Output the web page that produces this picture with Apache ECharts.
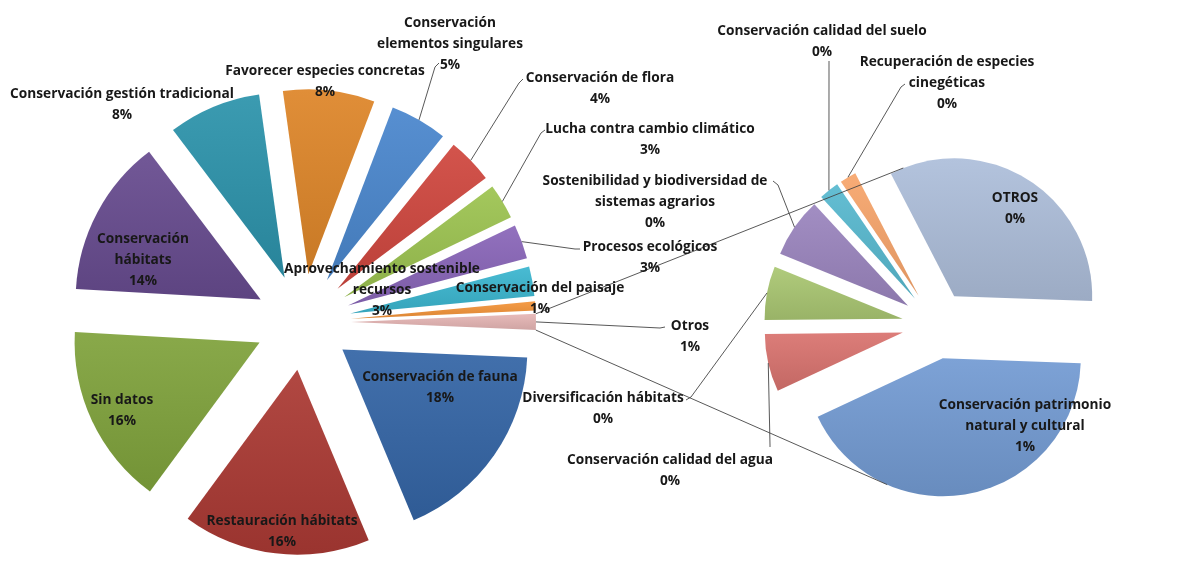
<!DOCTYPE html>
<html><head><meta charset="utf-8">
<script src="https://cdn.jsdelivr.net/npm/echarts@6/dist/echarts.min.js"></script>
<style>html,body{margin:0;padding:0;background:#fff}#c{width:1201px;height:563px}</style>
</head><body><div id="c"></div>
<script>
// ---------- DATA ----------
const mainNames = ['Conservación de fauna','Restauración hábitats','Sin datos','Conservación\nhábitats','Conservación gestión tradicional','Favorecer especies concretas','Conservación\nelementos singulares','Conservación de flora','Lucha contra cambio climático','Procesos ecológicos','Aprovechamiento sostenible\nrecursos','Conservación del paisaje','Otros'];
const mainValues = [18.0,16.4,15.8,13.8,8.1,8.0,5.0,4.0,3.1,3.0,2.6,0.8,1.4];
const subNames = ['Conservación patrimonio\nnatural y cultural','Conservación calidad del agua','Diversificación hábitats','Sostenibilidad y biodiversidad de\nsistemas agrarios','Conservación calidad del suelo','Recuperación de especies\ncinegéticas','OTROS'];
const subValues = [0.595,0.095,0.088,0.098,0.033,0.027,0.464];

// ---------- STYLE / LAYOUT ----------
const mainColors = ['#3465A6','#AB3A34','#80A33C','#674B8F','#2C93AB','#DE8629','#4A87CE','#D0473F','#9DC451','#8A66B9','#3BB6D0','#F4953A','#E6B6B5'];
const subColors = ['#739BD3','#D9736F','#AAC772','#9B85BF','#58B9D0','#F8A66C','#ADBEDA'];
const P1 = {cx:303, cy:322, r:185, off:48, start:2.5};
const P2 = {cx:936, cy:325, r:138, off:34, start:2.0};
const LDY = 2;
const mainSpecs = [
  {x:440,y:386},{x:282,y:530},{x:122,y:409},{x:143,y:258},{x:122,y:103},{x:325,y:80},
  {x:450,y:42,line:[[439,63],[435,67]]},
  {x:600,y:87,line:[[523,79],[519,83]]},
  {x:650,y:138,line:[[545,130],[541,133]]},
  {x:650,y:256,line:[[580,249],[575,249]]},
  {x:382,y:288},
  {x:540,y:297},
  {x:690,y:335,line:[[665,327],[660,328]]}
];
const subSpecs = [
  {x:1025,y:424},
  {x:670,y:469,line:[[770,447],[770,445]]},
  {x:603,y:407,line:[[686,400],[691,397]]},
  {x:655,y:200,line:[[773,181],[778,185]]},
  {x:822,y:40,line:[[829,61],[829,63]]},
  {x:947,y:81,line:[[905,84],[901,87]]},
  {x:1015,y:207}
];
const total = mainValues.reduce((a,b)=>a+b,0);

function shade(hex,f){const n=parseInt(hex.slice(1),16);let r=n>>16,g=(n>>8)&255,b=n&255;const t=f>0?255:0,p=Math.abs(f);
  r=Math.round(r+(t-r)*p);g=Math.round(g+(t-g)*p);b=Math.round(b+(t-b)*p);return 'rgb('+r+','+g+','+b+')';}
function fill(c){return {type:'linear',x:0,y:0,x2:0,y2:1,colorStops:[{offset:0,color:shade(c,0.07)},{offset:1,color:shade(c,-0.1)}]};}
function geom(vals,i,P){
  const tot=vals.reduce((a,b)=>a+b,0);let a0=P.start;for(let j=0;j<i;j++)a0+=vals[j]/tot*360;
  const a1=a0+vals[i]/tot*360,m=(a0+a1)/2*Math.PI/180;
  const tx=P.cx+P.off*Math.cos(m),ty=P.cy+P.off*Math.sin(m);
  return {a0,a1,tx,ty,pt(deg,rf){const a=deg*Math.PI/180;return [tx+P.r*rf*Math.cos(a),ty+P.r*rf*Math.sin(a)];}};
}
const txt={fontFamily:'Open Sans',fontWeight:'bold',fontSize:13.7,lineHeight:21,color:'#181818'};
function pieSeries(names,values,colors,P){
  return {type:'pie',center:[P.cx,P.cy],radius:[0,P.r],startAngle:-P.start,clockwise:true,
    selectedMode:'multiple',selectedOffset:P.off,silent:true,animation:false,z:2,
    emphasis:{disabled:true},select:{itemStyle:{borderWidth:0}},itemStyle:{borderWidth:0},
    label:{show:false},labelLine:{show:false},
    data:names.map((n,i)=>({name:n,value:values[i],selected:true,itemStyle:{color:fill(colors[i])}}))};
}
function labelSeries(names,values,P,specs){
  return {type:'pie',center:[P.cx,P.cy],radius:[0,P.r],startAngle:-P.start,clockwise:true,
    silent:true,animation:false,z:5,avoidLabelOverlap:false,emphasis:{disabled:true},
    itemStyle:{color:'rgba(0,0,0,0)',borderWidth:0},
    label:Object.assign({show:true,position:'outside',align:'center',
      formatter:p=>p.name+'\n'+Math.round(p.value/total*100)+'%'},txt),
    labelLine:{show:true,lineStyle:{color:'#454545',width:0.9}},
    labelLayout:function(p){const s=specs[p.dataIndex];const o={x:s.x,y:s.y+LDY,align:'center',verticalAlign:'middle'};
      if(s.line){const g=geom(values,p.dataIndex,P);o.labelLinePoints=[g.pt((g.a0+g.a1)/2,1),s.line[1],s.line[0]];}
      return o;},
    data:names.map((n,i)=>({name:n,value:values[i],labelLine:{show:!!specs[i].line}}))};
}
function tangent(p,c,r,sign){const dx=p[0]-c[0],dy=p[1]-c[1],d=Math.hypot(dx,dy);const t=Math.atan2(dy,dx)+sign*Math.acos(r/d);return [c[0]+r*Math.cos(t),c[1]+r*Math.sin(t)];}
const gO=geom(mainValues,mainValues.length-1,P1);
const gTop=geom(subValues,subValues.length-1,P2), gBot=geom(subValues,0,P2);
const up0=gO.pt(gO.a0,1), lo0=gO.pt(gO.a1,1);
const up1=tangent(up0,[gTop.tx,gTop.ty],P2.r,1), lo1=tangent(lo0,[gBot.tx,gBot.ty],P2.r,-1);

const chart=echarts.init(document.getElementById('c'),null,{renderer:'canvas'});
chart.setOption({
  backgroundColor:'#ffffff',animation:false,
  series:[pieSeries(mainNames,mainValues,mainColors,P1),pieSeries(subNames,subValues,subColors,P2),
          labelSeries(mainNames,mainValues,P1,mainSpecs),labelSeries(subNames,subValues,P2,subSpecs)],
  graphic:[
    {type:'polyline',z:4,shape:{points:[up0,up1]},style:{stroke:'#454545',lineWidth:0.9,fill:null}},
    {type:'polyline',z:4,shape:{points:[lo0,lo1]},style:{stroke:'#454545',lineWidth:0.9,fill:null}}
  ]
});
</script></body></html>
